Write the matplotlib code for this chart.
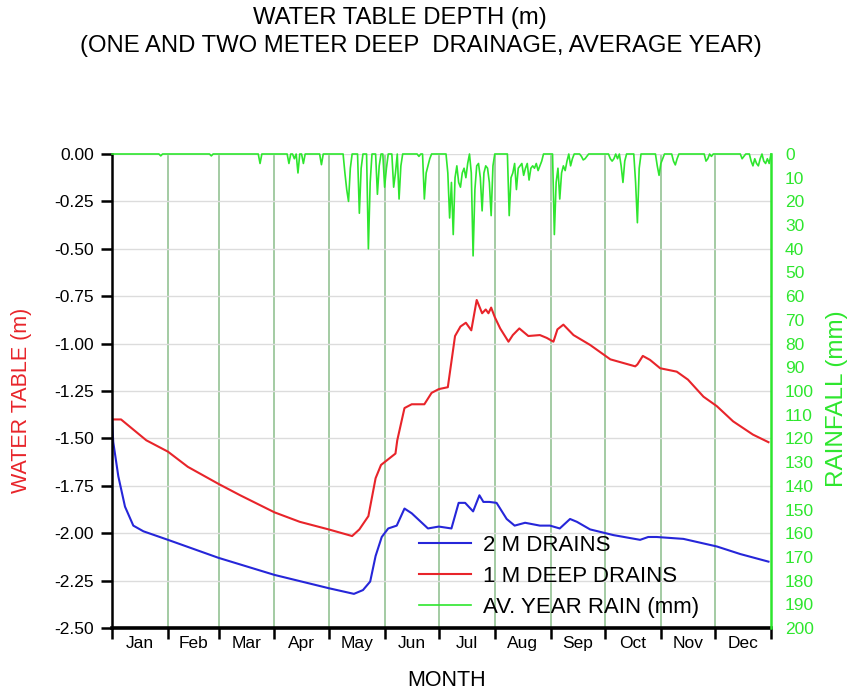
import numpy as np
import matplotlib
matplotlib.use("Agg")
import matplotlib.pyplot as plt
from matplotlib.ticker import FixedLocator, NullFormatter, FixedFormatter

plt.rcParams["font.family"] = ["Liberation Sans", "DejaVu Sans"]

# ---------------------------------------------------------------------
# Data (day of year, depth in m / rainfall in mm)
# ---------------------------------------------------------------------
MONTHS = ["Jan", "Feb", "Mar", "Apr", "May", "Jun",
          "Jul", "Aug", "Sep", "Oct", "Nov", "Dec"]
MONTH_EDGES = [0, 31, 59, 90, 120, 151, 181, 212, 243, 273, 304, 334, 365]

deep_days = [0, 5, 19, 31, 42, 59, 71, 90, 104, 120, 133, 137, 142, 146, 149,
             157, 158, 162, 166, 173, 177, 181, 186, 190, 193, 196, 199, 202,
             205, 207, 208.5, 210, 212, 215, 219.6, 222, 225.6, 230.6, 237,
             240.8, 244.5, 246.7, 250, 255.6, 264.8, 276, 289.8, 291, 294, 298,
             303.6, 312.8, 319, 327.6, 335, 344, 355, 363.6]
deep_wt = [-1.40, -1.40, -1.51, -1.57, -1.65, -1.74, -1.80, -1.89, -1.94, -1.98,
           -2.015, -1.98, -1.91, -1.71, -1.64, -1.58, -1.51, -1.34, -1.32, -1.32,
           -1.26, -1.24, -1.23, -0.96, -0.91, -0.89, -0.93, -0.77, -0.84, -0.82,
           -0.84, -0.81, -0.86, -0.92, -0.99, -0.955, -0.92, -0.96, -0.955,
           -0.97, -0.99, -0.925, -0.90, -0.955, -1.007, -1.083, -1.12, -1.11,
           -1.065, -1.086, -1.13, -1.148, -1.19, -1.28, -1.33, -1.41, -1.48,
           -1.52]

two_m_days = [0, 0.7, 3.5, 7.2, 11.8, 17.4, 31, 59, 90, 120, 134, 139, 143, 146,
              149.4, 153, 157.7, 162, 166, 175, 181, 188, 192, 195.6, 200, 203.5,
              205.7, 209, 213, 218.6, 223, 228.8, 237, 242.6, 248, 253.7, 257.5,
              264.8, 277.7, 292.5, 297, 301.7, 316.5, 335, 348, 363.6]
two_m_wt = [-1.40, -1.52, -1.70, -1.86, -1.96, -1.99, -2.035, -2.13, -2.22, -2.29,
            -2.32, -2.30, -2.255, -2.12, -2.02, -1.975, -1.96, -1.87, -1.895,
            -1.975, -1.965, -1.975, -1.84, -1.84, -1.885, -1.80, -1.835, -1.835,
            -1.84, -1.925, -1.96, -1.945, -1.96, -1.96, -1.975, -1.925, -1.94,
            -1.98, -2.01, -2.035, -2.02, -2.02, -2.03, -2.07, -2.11, -2.15]

rain_day = [27, 55, 82, 98, 101, 103, 106, 116, 129, 130, 131, 132, 137, 138,
            142, 143, 147, 148, 151, 152, 156, 157, 159, 160, 170, 173, 174, 175,
            176, 186, 187, 188, 189, 190, 191, 192, 193, 194, 195, 196, 197, 199,
            200, 201, 202, 203, 204, 205, 206, 207, 208, 209, 210, 211, 220, 221,
            222, 223, 224, 225, 226, 227, 228, 229, 230, 231, 232, 233, 234, 235,
            236, 237, 238, 245, 246, 247, 248, 249, 250, 251, 252, 254, 255, 260,
            261, 262, 263, 276, 277, 278, 280, 282, 283, 284, 290, 291, 292, 302,
            303, 304, 305, 311, 312, 313, 329, 330, 332, 349, 350, 354, 355, 356,
            357, 358, 359, 361, 362, 363, 364]
rain_mm = [0.8, 0.8, 4, 4, 2, 8, 4, 4.5, 8, 15, 20, 6, 25, 6,
           40, 12, 17, 5, 14, 6, 14, 8, 19, 5, 1, 19, 8, 5,
           2, 8, 27, 12, 34, 10, 5, 12, 14, 8, 6, 10, 4, 8,
           43, 15, 5, 4, 10, 24, 8, 5, 6, 12, 26, 5, 26, 10,
           8, 4, 15, 6, 5, 4, 9, 6, 4, 11, 6, 5, 6, 4,
           7, 5, 3, 34, 12, 6, 19, 8, 5, 7, 3, 5, 2, 1,
           2.5, 2, 1, 2, 3, 2, 2, 5, 12, 3, 12, 29, 6, 5,
           9, 4, 2, 3, 4.6, 2, 3, 2, 1, 2, 1, 3, 5, 2,
           4, 5, 2, 3, 4, 2, 4]

RED = "#e8242a"
BLUE = "#2626d9"
GREEN = "#2ee62e"

# daily rainfall table, dry days are zero
rain = np.zeros(366)
rain[rain_day] = rain_mm

fig = plt.figure(figsize=(8.48, 6.91), dpi=100)
ax = fig.add_axes([112 / 848, 1 - 628 / 691, 659 / 848, 474 / 691])
ax2 = ax.twinx()

l_two, = ax.plot(two_m_days, two_m_wt, color=BLUE, lw=1.5, label="2 M DRAINS")
l_deep, = ax.plot(deep_days, deep_wt, color=RED, lw=1.5, label="1 M DEEP DRAINS")
l_rain, = ax2.plot(np.arange(366), rain, color=GREEN, lw=1.2, clip_on=False,
                   label="AV. YEAR RAIN (mm)")

# left axis: water table
ax.set_xlim(0, 365)
ax.set_ylim(-2.5, 0)
ax.set_yticks(np.arange(-2.5, 0.01, 0.25))
ax.set_yticklabels([f"{v:.2f}" for v in np.arange(-2.5, 0.01, 0.25)])
ax.tick_params(axis="y", direction="out", length=8, width=1.8, labelsize=12.5, pad=5)
ax.set_ylabel("WATER TABLE (m)", color=RED, fontsize=15.5)
ax.yaxis.set_label_coords(-0.1215, 0.481)
ax.grid(axis="y", color="#dcdcdc", lw=1.0)

# months: ticks on the edges, labels in the middle
ax.xaxis.set_major_locator(FixedLocator(MONTH_EDGES))
ax.xaxis.set_major_formatter(NullFormatter())
mids = [(a + b) / 2 for a, b in zip(MONTH_EDGES[:-1], MONTH_EDGES[1:])]
ax.xaxis.set_minor_locator(FixedLocator(mids))
ax.xaxis.set_minor_formatter(FixedFormatter(MONTHS))
ax.tick_params(axis="x", which="major", direction="out", length=8, width=1.8)
ax.tick_params(axis="x", which="minor", length=0, labelsize=12.5, pad=6)
ax.set_xlabel("MONTH", fontsize=15.5)
ax.xaxis.set_label_coords(0.507, -0.088)
for d in MONTH_EDGES[1:-1]:
    ax.axvline(d, color="#93c293", lw=1.2, zorder=0)

ax.spines["top"].set_visible(False)
ax.spines["right"].set_visible(False)
ax.spines["left"].set_linewidth(1.8)
ax.spines["bottom"].set_linewidth(2.6)

# right axis: rainfall, inverted
ax2.set_ylim(200, 0)
ax2.set_yticks(np.arange(0, 201, 10))
ax2.tick_params(axis="y", length=0, labelsize=12.5, labelcolor=GREEN, pad=10)
ax2.set_ylabel("RAINFALL (mm)", color=GREEN, fontsize=17.5)
ax2.yaxis.set_label_coords(1.0835, 0.484)
for s in ["top", "left", "bottom"]:
    ax2.spines[s].set_visible(False)
ax2.spines["right"].set_color(GREEN)
ax2.spines["right"].set_linewidth(1.8)

fig.legend(handles=[l_two, l_deep, l_rain], loc="upper left",
           bbox_to_anchor=(419 / 848, 1 - 535 / 691), frameon=False,
           fontsize=16, handlelength=2.35, handletextpad=0.55,
           labelspacing=0.45, borderpad=0, borderaxespad=0)

fig.text(400 / 848, 1 - 18 / 691, "WATER TABLE DEPTH (m)", ha="center",
         va="center", fontsize=17.2)
fig.text(421 / 848, 1 - 46 / 691, "(ONE AND TWO METER DEEP  DRAINAGE, AVERAGE YEAR)",
         ha="center", va="center", fontsize=17.2)

fig.savefig("out.png", dpi=100)
